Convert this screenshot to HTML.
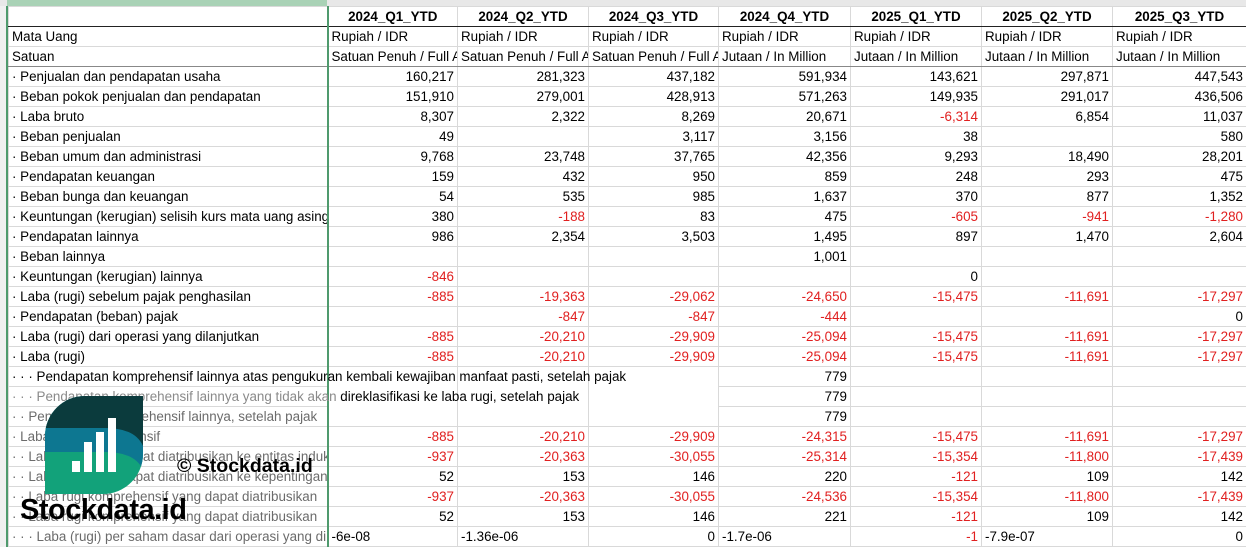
<!DOCTYPE html>
<html><head><meta charset="utf-8"><style>
body{margin:0;width:1246px;height:547px;overflow:hidden;background:#fff;font-family:"Liberation Sans",sans-serif;font-size:13.4px;color:#000;position:relative}
.top{position:absolute;left:0;top:0;width:1246px;height:6px;background:#e8e8e8;border-bottom:1px solid #bdbdbd}
.topg{position:absolute;left:7px;top:0;width:320px;height:6px;background:#a9d2b6}
.gut{position:absolute;left:0;top:6px;width:6px;height:541px;background:#f0f0f0;border-right:2px solid #4f9a6d}
table{position:absolute;left:8px;top:6px;border-collapse:collapse;table-layout:fixed;width:1238px}
td{height:19px;padding:0 3px;border:1px solid #d9d9d9;white-space:nowrap;overflow:hidden;text-align:right;line-height:19px}
td.l{text-align:left;overflow:visible;position:relative;z-index:1}
td.lc{text-align:left}
tr.h td{font-weight:bold;text-align:center;border-bottom:1px solid #222}
tr.s td{border-bottom:1px solid #888}
td:first-child{text-align:left;border-right:2px solid #4f9a6d}
.r{color:#e02020}
.g{color:#6b6b6b}
.ov{position:absolute;left:3px;top:0;white-space:nowrap;z-index:3}
.logo{position:absolute;left:45px;top:396px;z-index:5}
.wm1{position:absolute;left:20px;top:494px;font-weight:bold;font-size:29px;letter-spacing:-0.5px;z-index:5}
.wm2{position:absolute;left:177px;top:455px;font-weight:bold;font-size:19.5px;z-index:5}
</style></head><body>
<div class="top"></div><div class="topg"></div><div class="gut"></div>
<table>
<colgroup><col style="width:319px"><col style="width:130px"><col style="width:131px"><col style="width:130px"><col style="width:132px"><col style="width:131px"><col style="width:131px"><col style="width:134px"></colgroup>
<tr class="h"><td></td><td style="text-align:center">2024_Q1_YTD</td><td>2024_Q2_YTD</td><td>2024_Q3_YTD</td><td>2024_Q4_YTD</td><td>2025_Q1_YTD</td><td>2025_Q2_YTD</td><td>2025_Q3_YTD</td></tr>
<tr><td>Mata Uang</td><td class="lc">Rupiah / IDR</td><td class="lc">Rupiah / IDR</td><td class="lc">Rupiah / IDR</td><td class="lc">Rupiah / IDR</td><td class="lc">Rupiah / IDR</td><td class="lc">Rupiah / IDR</td><td class="lc">Rupiah / IDR</td></tr>
<tr class="s"><td>Satuan</td><td class="lc">Satuan Penuh / Full A</td><td class="lc">Satuan Penuh / Full A</td><td class="lc">Satuan Penuh / Full A</td><td class="lc">Jutaan / In Million</td><td class="lc">Jutaan / In Million</td><td class="lc">Jutaan / In Million</td><td class="lc">Jutaan / In Million</td></tr>
<tr><td>· Penjualan dan pendapatan usaha</td><td>160,217</td><td>281,323</td><td>437,182</td><td>591,934</td><td>143,621</td><td>297,871</td><td>447,543</td></tr>
<tr><td>· Beban pokok penjualan dan pendapatan</td><td>151,910</td><td>279,001</td><td>428,913</td><td>571,263</td><td>149,935</td><td>291,017</td><td>436,506</td></tr>
<tr><td>· Laba bruto</td><td>8,307</td><td>2,322</td><td>8,269</td><td>20,671</td><td class="r">-6,314</td><td>6,854</td><td>11,037</td></tr>
<tr><td>· Beban penjualan</td><td>49</td><td></td><td>3,117</td><td>3,156</td><td>38</td><td></td><td>580</td></tr>
<tr><td>· Beban umum dan administrasi</td><td>9,768</td><td>23,748</td><td>37,765</td><td>42,356</td><td>9,293</td><td>18,490</td><td>28,201</td></tr>
<tr><td>· Pendapatan keuangan</td><td>159</td><td>432</td><td>950</td><td>859</td><td>248</td><td>293</td><td>475</td></tr>
<tr><td>· Beban bunga dan keuangan</td><td>54</td><td>535</td><td>985</td><td>1,637</td><td>370</td><td>877</td><td>1,352</td></tr>
<tr><td>· Keuntungan (kerugian) selisih kurs mata uang asing</td><td>380</td><td class="r">-188</td><td>83</td><td>475</td><td class="r">-605</td><td class="r">-941</td><td class="r">-1,280</td></tr>
<tr><td>· Pendapatan lainnya</td><td>986</td><td>2,354</td><td>3,503</td><td>1,495</td><td>897</td><td>1,470</td><td>2,604</td></tr>
<tr><td>· Beban lainnya</td><td></td><td></td><td></td><td>1,001</td><td></td><td></td><td></td></tr>
<tr><td>· Keuntungan (kerugian) lainnya</td><td class="r">-846</td><td></td><td></td><td></td><td>0</td><td></td><td></td></tr>
<tr class="r"><td style="color:#000">· Laba (rugi) sebelum pajak penghasilan</td><td>-885</td><td>-19,363</td><td>-29,062</td><td>-24,650</td><td>-15,475</td><td>-11,691</td><td>-17,297</td></tr>
<tr><td>· Pendapatan (beban) pajak</td><td></td><td class="r">-847</td><td class="r">-847</td><td class="r">-444</td><td></td><td></td><td>0</td></tr>
<tr class="r"><td style="color:#000">· Laba (rugi) dari operasi yang dilanjutkan</td><td>-885</td><td>-20,210</td><td>-29,909</td><td>-25,094</td><td>-15,475</td><td>-11,691</td><td>-17,297</td></tr>
<tr class="r"><td style="color:#000">· Laba (rugi)</td><td>-885</td><td>-20,210</td><td>-29,909</td><td>-25,094</td><td>-15,475</td><td>-11,691</td><td>-17,297</td></tr>
<tr><td class="l"><span class="ov">· · · Pendapatan komprehensif lainnya atas pengukuran kembali kewajiban manfaat pasti, setelah pajak</span></td><td style="border-color:transparent #d9d9d9"></td><td style="border-color:transparent #d9d9d9"></td><td style="border-color:transparent #d9d9d9"></td><td style="background:#fff;position:relative;z-index:4">779</td><td></td><td></td><td></td></tr>
<tr><td class="l g"><span class="ov"><span style="color:#8a8a8a">· · · Pendapatan komprehensif lainnya yang tidak akan </span><span style="color:#000">direklasifikasi ke laba rugi, setelah pajak</span></span></td><td style="border-color:transparent #d9d9d9"></td><td style="border-color:transparent #d9d9d9"></td><td style="border-color:transparent #d9d9d9"></td><td style="background:#fff;position:relative;z-index:4">779</td><td></td><td></td><td></td></tr>
<tr><td class="g">· · Pendapatan komprehensif lainnya, setelah pajak</td><td></td><td></td><td></td><td>779</td><td></td><td></td><td></td></tr>
<tr class="r"><td class="g">· Laba rugi komprehensif</td><td>-885</td><td>-20,210</td><td>-29,909</td><td>-24,315</td><td>-15,475</td><td>-11,691</td><td>-17,297</td></tr>
<tr class="r"><td class="g">· · Laba rugi yang dapat diatribusikan ke entitas induk</td><td>-937</td><td>-20,363</td><td>-30,055</td><td>-25,314</td><td>-15,354</td><td>-11,800</td><td>-17,439</td></tr>
<tr><td class="g">· · Laba rugi yang dapat diatribusikan ke kepentingan</td><td>52</td><td>153</td><td>146</td><td>220</td><td class="r">-121</td><td>109</td><td>142</td></tr>
<tr class="r"><td class="g">· · Laba rugi komprehensif yang dapat diatribusikan</td><td>-937</td><td>-20,363</td><td>-30,055</td><td>-24,536</td><td>-15,354</td><td>-11,800</td><td>-17,439</td></tr>
<tr><td class="g">· · Laba rugi komprehensif yang dapat diatribusikan</td><td>52</td><td>153</td><td>146</td><td>221</td><td class="r">-121</td><td>109</td><td>142</td></tr>
<tr><td class="g">· · · Laba (rugi) per saham dasar dari operasi yang dilanjutkan</td><td class="lc">-6e-08</td><td class="lc">-1.36e-06</td><td>0</td><td class="lc">-1.7e-06</td><td class="r">-1</td><td class="lc">-7.9e-07</td><td>0</td></tr>
</table>
<svg class="logo" width="98" height="98" viewBox="0 0 98 98">
<defs><clipPath id="c"><path d="M40 0 H98 V58 A40 40 0 0 1 58 98 H0 V40 A40 40 0 0 1 40 0 Z"/></clipPath></defs>
<g clip-path="url(#c)">
<rect width="98" height="98" fill="#12a27a"/>
<path d="M0 0 H98 V74 Q90 56 60 56 H0 Z" fill="#0d7791"/>
<path d="M0 0 H98 V50 Q90 32 60 32 H0 Z" fill="#0b3b3d"/>
</g>
<rect x="27" y="65" width="8" height="11" fill="#fff"/>
<rect x="39" y="46" width="8" height="30" fill="#fff"/>
<rect x="51" y="36" width="8" height="40" fill="#fff"/>
<rect x="63" y="22" width="8" height="54" fill="#fff"/>
</svg>
<div class="wm2">© Stockdata.id</div>
<div class="wm1">Stockdata.id</div>
</body></html>
